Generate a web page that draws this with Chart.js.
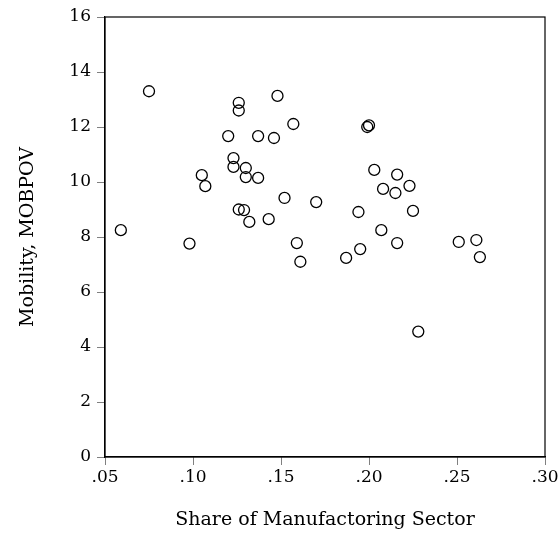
<!DOCTYPE html>
<html>
<head>
<meta charset="utf-8">
<script src="https://cdn.jsdelivr.net/npm/chart.js@4.4.1/dist/chart.umd.min.js"></script>
<style>
  html, body { margin: 0; padding: 0; background: #fff; }
  #wrap { width: 558px; height: 550px; }
</style>
</head>
<body>
<div id="wrap"><canvas id="mycanvas" width="558" height="550"></canvas></div>
<script>
// share of manufacturing sector vs mobility
var share = [0.059, 0.075, 0.098, 0.105, 0.107, 0.120, 0.123, 0.123, 0.126, 0.126,
             0.126, 0.129, 0.130, 0.130, 0.132, 0.137, 0.137, 0.143, 0.146, 0.148,
             0.152, 0.157, 0.159, 0.161, 0.170, 0.187, 0.194, 0.195, 0.199, 0.200,
             0.203, 0.207, 0.208, 0.215, 0.216, 0.216, 0.223, 0.225, 0.228, 0.251,
             0.261, 0.263];
var mobpov = [8.25, 13.3, 7.76, 10.25, 9.85, 11.67, 10.87, 10.55, 12.88, 12.6,
              9.0, 8.98, 10.51, 10.18, 8.55, 11.67, 10.15, 8.65, 11.6, 13.13,
              9.42, 12.11, 7.78, 7.1, 9.27, 7.24, 8.91, 7.56, 12.0, 12.06,
              10.44, 8.25, 9.75, 9.6, 10.27, 7.78, 9.86, 8.95, 4.56, 7.82,
              7.89, 7.27];
var xTicks = [0.05, 0.10, 0.15, 0.20, 0.25, 0.30];
var xTickLabels = [".05", ".10", ".15", ".20", ".25", ".30"];
var yTicks = [0, 2, 4, 6, 8, 10, 12, 14, 16];

var points = [];
for (var i in share) {
    points.push({x: share[i], y: mobpov[i]});
}

var fontFam = "'DejaVu Serif', 'Liberation Serif', serif";

// draw the full box round the plot
var boxPlugin = {
    id: 'box',
    afterDraw: function(chart) {
        var a = chart.chartArea, c = chart.ctx;
        c.save();
        c.strokeStyle = '#000';
        c.lineWidth = 1.2;
        c.strokeRect(a.left, a.top, a.right - a.left, a.bottom - a.top);
        c.restore();
    }
};

var ctx = document.getElementById('mycanvas');
var chart = new Chart(ctx, {
    type: 'scatter',
    data: {
        datasets: [{
            label: 'MOBPOV',
            data: points,
            pointStyle: 'circle',
            pointRadius: 5.5,
            pointHoverRadius: 5.5,
            borderColor: '#000',
            borderWidth: 1.3,
            backgroundColor: 'rgba(0,0,0,0)'
        }]
    },
    options: {
        responsive: false,
        animation: false,
        layout: { padding: { left: 0, right: 13, top: 17, bottom: 0 } },
        plugins: { legend: { display: false }, tooltip: { enabled: false } },
        scales: {
            x: {
                type: 'linear',
                min: 0.05, max: 0.30,
                afterBuildTicks: function(axis) {
                    axis.ticks = xTicks.map(function(v) { return {value: v}; });
                },
                afterFit: function(axis) {
                    axis.height = 93;
                    axis.paddingLeft = 0;
                    axis.paddingRight = 0;
                },
                ticks: {
                    color: '#000',
                    font: { family: fontFam, size: 17 },
                    padding: 2,
                    maxRotation: 0,
                    callback: function(v) {
                        var k = xTicks.indexOf(Math.round(v * 100) / 100);
                        return k >= 0 ? xTickLabels[k] : '';
                    }
                },
                grid: { drawOnChartArea: false, color: '#808080', tickLength: 8 },
                border: { color: '#000', width: 1.2 },
                title: {
                    display: true,
                    text: 'Share of Manufactoring Sector',
                    color: '#000',
                    font: { family: fontFam, size: 19 },
                    padding: { top: 0, bottom: 19 }
                }
            },
            y: {
                type: 'linear',
                min: 0, max: 16,
                afterBuildTicks: function(axis) {
                    axis.ticks = yTicks.map(function(v) { return {value: v}; });
                },
                afterFit: function(axis) {
                    axis.width = 105;
                    axis.paddingTop = 0;
                    axis.paddingBottom = 0;
                },
                ticks: {
                    color: '#000',
                    font: { family: fontFam, size: 17 },
                    padding: 6
                },
                grid: { drawOnChartArea: false, color: '#808080', tickLength: 8 },
                border: { color: '#000', width: 1.2 },
                title: {
                    display: true,
                    text: 'Mobility, MOBPOV',
                    color: '#000',
                    font: { family: fontFam, size: 19 },
                    padding: { top: 17, bottom: 0 }
                }
            }
        }
    },
    plugins: [boxPlugin]
});
</script>
</body>
</html>
